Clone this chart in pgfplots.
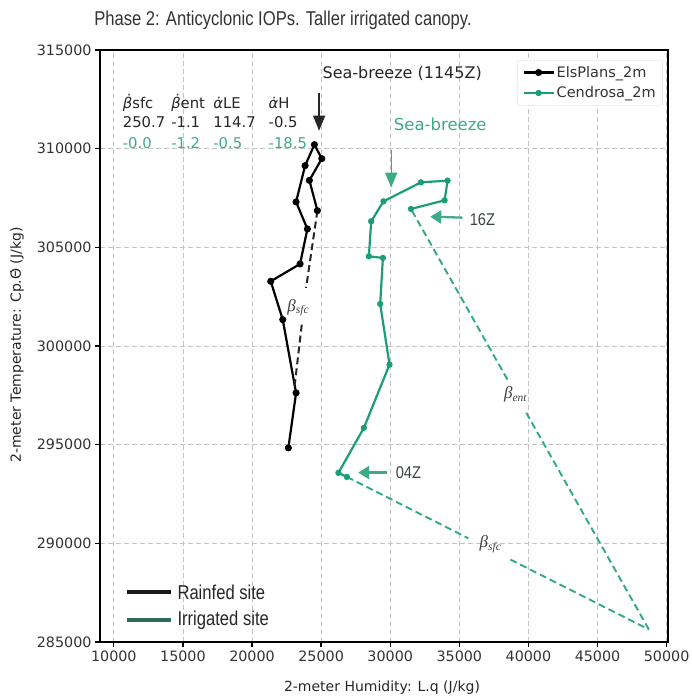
\documentclass[border=0pt]{standalone}
\usepackage{pgfplots}
\pgfplotsset{compat=1.18}
\usepackage{fontspec}
\setmainfont{DejaVu Sans}
\newfontfamily\narrowfont[FakeStretch=0.83]{Liberation Sans}
\newfontfamily\zfont[FakeStretch=0.86]{Liberation Sans}
\newfontfamily\symfont{Liberation Serif}
\usetikzlibrary{arrows.meta}

\definecolor{cgreen}{HTML}{1B9E77}
\definecolor{cgreenl}{HTML}{3DAA8A}
\definecolor{legdark}{HTML}{2E6B58}
\definecolor{gridgray}{HTML}{C4C4C4}
\definecolor{zgray}{HTML}{3A4442}

% vector label: italic beta with a lowered subscript
\newcommand{\vlab}[1]{{\symfont\itshape β\raisebox{-0.35ex}{\fontsize{11.5}{13}\selectfont #1}}}

\begin{document}
\begin{tikzpicture}
\path[use as bounding box] (-100pt,-56pt) rectangle (591pt,642pt);
\begin{axis}[
  at={(0,0)}, anchor=south west,
  scale only axis, width=568pt, height=592pt,
  xmin=9000, xmax=50100, ymin=285000, ymax=315000,
  xtick={10000,15000,...,50000},
  ytick={285000,290000,...,315000},
  scaled ticks=false,
  /pgf/number format/fixed,
  /pgf/number format/1000 sep={},
  /pgf/number format/assume math mode=true,
  tick label style={font=\fontsize{14.3}{16}\selectfont, text=black!80},
  axis line style={line width=1.8pt},
  tick style={black, line width=1.3pt},
  major tick length=5pt,
  tick align=outside,
  xtick pos=bottom, ytick pos=left,
  grid=major,
  major grid style={gridgray, line width=0.8pt, dash pattern=on 5pt off 3pt},
  clip=false,
  legend style={at={(0.991,0.983)}, anchor=north east,
    draw=black!15, rounded corners=2pt,
    font=\fontsize{14.5}{17}\selectfont, text=black!80,
    inner xsep=5pt, inner ysep=4pt, row sep=4pt},
  legend cell align=left,
  legend image code/.code={%
    \draw[#1, mark repeat=2, mark phase=2] plot coordinates {(0pt,0pt) (15pt,0pt) (30pt,0pt)};},
]
% surface-to-top trajectories, 2 m
\addplot[black, line width=2.2pt, mark=*, mark size=2.4pt] coordinates {
  (22630,294838) (23188,297624) (22223,301337) (21354,303278)
  (23478,304159) (24007,305932) (23188,307300) (23840,309139)
  (24514,310203) (25050,309493) (24152,308394) (24731,306859)
};
\addlegendentry{ElsPlans\_2m}
\addplot[cgreen, line width=2.2pt, mark=*, mark size=2pt] coordinates {
  (26862,293368) (26253,293571) (28093,295851) (29949,299058)
  (29274,302132) (29470,304463) (28456,304544) (28622,306317)
  (29514,307330) (32223,308293) (34151,308379) (33934,307381)
  (31500,306945)
};
\addlegendentry{Cendrosa\_2m}

% budget vectors (split around their labels)
\addplot[forget plot, black!85, line width=2pt, dash pattern=on 7pt off 4pt] coordinates {(24731,306859) (23912,302943)};
\addplot[forget plot, black!85, line width=2pt, dash pattern=on 7pt off 4pt] coordinates {(23601,301084) (23065,297877)};
\addplot[forget plot, cgreen!90, line width=1.9pt, dash pattern=on 7pt off 4pt] coordinates {(26862,293368) (35651,290258)};
\addplot[forget plot, cgreen!90, line width=1.9pt, dash pattern=on 7pt off 4pt] coordinates {(38694,289179) (48716,285633)};
\addplot[forget plot, cgreen!90, line width=1.9pt, dash pattern=on 7pt off 4pt] coordinates {(48716,285633) (39796,296676)};
\addplot[forget plot, cgreen!90, line width=1.9pt, dash pattern=on 7pt off 4pt] coordinates {(38484,298297) (31500,306945)};

\node[text=black!75, font=\fontsize{17}{19}\selectfont] at (axis cs:23333,301945) {\vlab{sfc}};
\node[text=black!75, font=\fontsize{17}{19}\selectfont] at (axis cs:37245,289939) {\vlab{sfc}};
\node[text=black!75, font=\fontsize{17}{19}\selectfont] at (axis cs:39056,297538) {\vlab{ent}};

% tendencies
\begin{scope}[font=\fontsize{14.8}{16}\selectfont]
\node[anchor=west, text=black!85] at (axis cs:10400,312330) {\textit{β̇}sfc};
\node[anchor=west, text=black!85] at (axis cs:13900,312330) {\textit{β̇}ent};
\node[anchor=west, text=black!85] at (axis cs:16950,312330) {\textit{α̇}LE};
\node[anchor=west, text=black!85] at (axis cs:20950,312330) {\textit{α̇}H};
\node[anchor=west, text=black!85] at (axis cs:10400,311368) {250.7};
\node[anchor=west, text=black!85] at (axis cs:13900,311368) {-1.1};
\node[anchor=west, text=black!85] at (axis cs:16950,311368) {114.7};
\node[anchor=west, text=black!85] at (axis cs:20950,311368) {-0.5};
\node[anchor=west, text=cgreenl] at (axis cs:10400,310304) {-0.0};
\node[anchor=west, text=cgreenl] at (axis cs:13900,310304) {-1.2};
\node[anchor=west, text=cgreenl] at (axis cs:16950,310304) {-0.5};
\node[anchor=west, text=cgreenl] at (axis cs:20950,310304) {-18.5};
\end{scope}

% sea-breeze onset and time marks
\node[text=black!85, font=\fontsize{16}{18}\selectfont] at (axis cs:30869,313800) {Sea-breeze (1145Z)};
\draw[-{Triangle[width=12pt,length=15pt]}, line width=1.4pt, black!85]
  (axis cs:24854,312837) -- (axis cs:24854,310912);
\node[text=cgreenl, font=\fontsize{16.5}{18}\selectfont] at (axis cs:33622,311216) {Sea-breeze};
\draw[-{Triangle[width=12pt,length=15pt]}, line width=1.4pt, cgreenl]
  (axis cs:30071,309949) -- (axis cs:30071,308024);
\draw[-{Triangle[width=13pt,length=11pt]}, line width=2.3pt, cgreenl]
  (axis cs:35216,306504) -- (axis cs:32897,306555);
\node[anchor=west, text=zgray, font=\zfont\fontsize{17}{19}\selectfont] at (axis cs:35500,306400) {16Z};
\draw[-{Triangle[width=13pt,length=11pt]}, line width=2.3pt, cgreenl]
  (axis cs:29782,293586) -- (axis cs:27680,293586);
\node[anchor=west, text=zgray, font=\zfont\fontsize{17}{19}\selectfont] at (axis cs:30150,293586) {04Z};
\end{axis}

% site key
\draw[black!90, line width=3.2pt] (27pt,50pt) -- (71pt,50pt);
\node[anchor=west, text=black!85, font=\narrowfont\fontsize{20}{22}\selectfont] at (74pt,50pt) {Rainfed site};
\draw[legdark, line width=3.2pt] (27pt,22pt) -- (71pt,22pt);
\node[anchor=west, text=black!85, font=\narrowfont\fontsize{20}{22}\selectfont] at (74pt,22pt) {Irrigated site};

% title and axis labels
\node[text=black!80, font=\narrowfont\fontsize{20}{22}\selectfont] at (183pt,622pt) {Phase 2: Anticyclonic IOPs. Taller irrigated canopy.};
\node[text=black!85, font=\fontsize{14}{16}\selectfont] at (282pt,-46pt) {2-meter Humidity: L.q (J/kg)};
\node[text=black!85, rotate=90, font=\fontsize{14}{16}\selectfont] at (-83pt,297pt) {2-meter Temperature: Cp.Θ̇ (J/kg)};
\end{tikzpicture}
\end{document}
